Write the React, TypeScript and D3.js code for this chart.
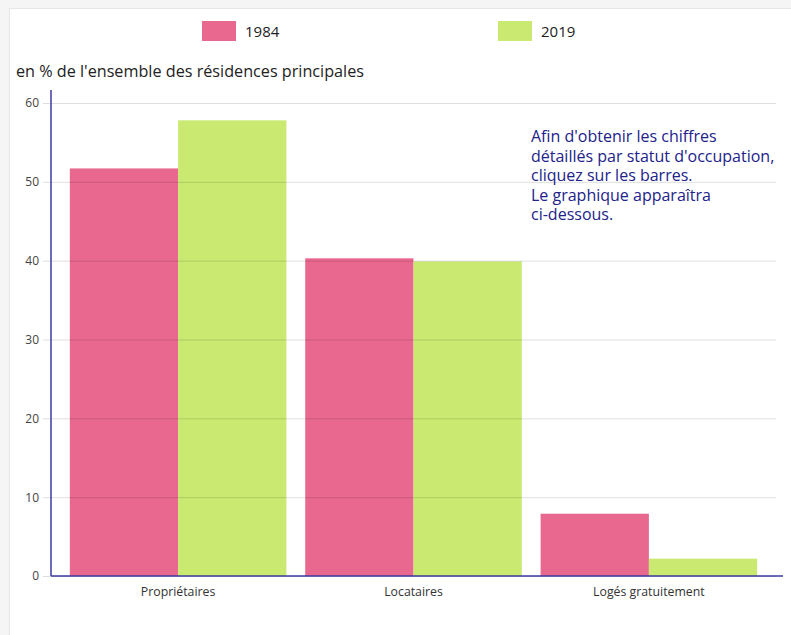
import { useEffect, useRef } from "react";
import * as d3 from "d3";

const categories = ["Propriétaires", "Locataires", "Logés gratuitement"];
const years = ["1984", "2019"];
const values1984 = [51.7, 40.3, 7.9];
const values2019 = [57.8, 39.9, 2.2];
const yTicks = [0, 10, 20, 30, 40, 50, 60];
const noteLines = [
  "Afin d'obtenir les chiffres",
  "détaillés par statut d'occupation,",
  "cliquez sur les barres.",
  "Le graphique apparaîtra",
  "ci-dessous.",
];

const colors = ["#e8688f", "#c9e970"];
const font = "'Open Sans', 'Noto Sans', sans-serif";

const App = () => {
  const chartRef = useRef(null);

  useEffect(() => {
    if (!chartRef.current) return;
    const svg = d3.select(chartRef.current);
    svg.selectAll("*").remove();

    const width = 791;
    const height = 635;
    const margin = { top: 103, right: 15, bottom: 59, left: 51 };

    svg.attr("viewBox", [0, 0, width, height] as any);

    // page background + white panel
    svg.append("rect").attr("width", width).attr("height", height).attr("fill", "#f5f5f5");
    svg
      .append("rect")
      .attr("x", 9.5)
      .attr("y", 8.5)
      .attr("width", width)
      .attr("height", height)
      .attr("fill", "#fff")
      .attr("stroke", "#e6e6e6");

    const x0 = d3
      .scaleBand()
      .domain(categories)
      .range([margin.left, width - margin.right])
      .paddingInner(0.08)
      .paddingOuter(0.08);
    const x1 = d3.scaleBand().domain(years).range([0, x0.bandwidth()]);
    const y = d3
      .scaleLinear()
      .domain([0, 60])
      .range([height - margin.bottom, margin.top]);

    // bars
    const data = categories.map((c, i) => ({ c, v: [values1984[i], values2019[i]] }));
    svg
      .append("g")
      .selectAll("g")
      .data(data)
      .join("g")
      .attr("transform", (d) => `translate(${x0(d.c)},0)`)
      .selectAll("rect")
      .data((d) => d.v.map((v, j) => ({ v, j })))
      .join("rect")
      .attr("x", (d) => x1(years[d.j]) as number)
      .attr("width", x1.bandwidth())
      .attr("y", (d) => y(d.v))
      .attr("height", (d) => y(0) - y(d.v))
      .attr("fill", (d) => colors[d.j]);

    // grid + y axis labels
    const yAxis = svg
      .append("g")
      .attr("transform", `translate(${margin.left},0)`)
      .call(
        d3
          .axisLeft(y)
          .tickValues(yTicks)
          .tickSize(-(width - margin.left - margin.right))
          .tickSizeOuter(0)
          .tickPadding(12)
      );
    yAxis.select(".domain").remove();
    yAxis
      .selectAll(".tick line")
      .attr("x1", -8)
      .attr("stroke", "#000")
      .attr("stroke-opacity", 0.13);
    yAxis
      .selectAll(".tick text")
      .attr("font-family", font)
      .attr("font-size", 12)
      .attr("fill", "#444");

    // axis lines
    svg
      .append("line")
      .attr("x1", margin.left)
      .attr("x2", margin.left)
      .attr("y1", 90)
      .attr("y2", y(0))
      .attr("stroke", "#3a3aa0")
      .attr("stroke-width", 1.5);
    svg
      .append("line")
      .attr("x1", margin.left)
      .attr("x2", 783)
      .attr("y1", y(0))
      .attr("y2", y(0))
      .attr("stroke", "#3a3aa0")
      .attr("stroke-width", 1.5);

    // category labels
    svg
      .append("g")
      .selectAll("text")
      .data(categories)
      .join("text")
      .attr("x", (d) => (x0(d) as number) + x0.bandwidth() / 2)
      .attr("y", y(0) + 20)
      .attr("text-anchor", "middle")
      .attr("font-family", font)
      .attr("font-size", 12.3)
      .attr("fill", "#333")
      .text((d) => d);

    // y title
    svg
      .append("text")
      .attr("x", 16)
      .attr("y", 77)
      .attr("font-family", font)
      .attr("font-size", 16.2)
      .attr("fill", "#222")
      .text("en % de l'ensemble des résidences principales");

    // legend
    const legendX = [202, 498];
    const legend = svg
      .append("g")
      .selectAll("g")
      .data(years)
      .join("g")
      .attr("transform", (_d, i) => `translate(${legendX[i]},21)`);
    legend
      .append("rect")
      .attr("width", 34)
      .attr("height", 20)
      .attr("fill", (_d, i) => colors[i]);
    legend
      .append("text")
      .attr("x", 43)
      .attr("y", 16)
      .attr("font-family", font)
      .attr("font-size", 15)
      .attr("fill", "#222")
      .text((d) => d);

    // note
    svg
      .append("text")
      .attr("font-family", font)
      .attr("font-size", 16)
      .attr("fill", "#22228a")
      .selectAll("tspan")
      .data(noteLines)
      .join("tspan")
      .attr("x", 531)
      .attr("y", (_d, i) => 142 + i * 19.5)
      .text((d) => d);
  }, []);

  return (
    <svg
      ref={chartRef}
      width={791}
      height={635}
      style={{ position: "absolute", left: 0, top: 0 }}
    ></svg>
  );
};

export default App;
